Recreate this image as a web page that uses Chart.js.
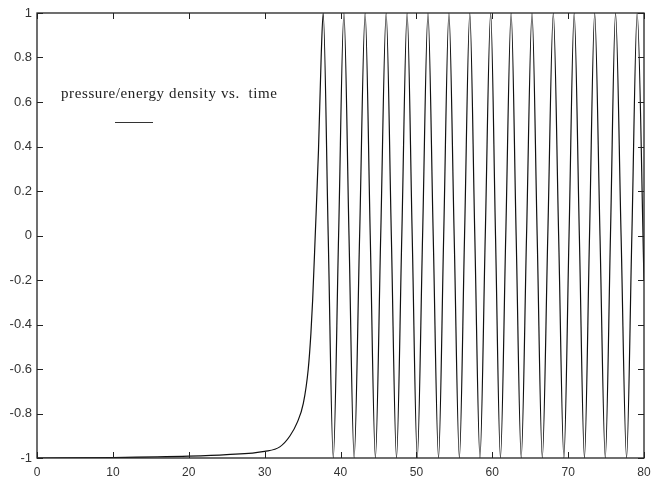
<!DOCTYPE html>
<html>
<head>
<meta charset="utf-8">
<script src="https://cdn.jsdelivr.net/npm/chart.js@4/dist/chart.umd.min.js"></script>
<style>
  html, body { margin: 0; padding: 0; background: #fff; }
  #chart { display: block; }
</style>
</head>
<body>
<canvas id="chart" width="653" height="478"></canvas>
<script>
// values
const timeValues = [
    0, 10, 20, 25, 30, 32, 33.35, 34.3, 35.1, 35.75, 36.1, 36.33, 36.67, 37.1, 37.45,
    37.72, 38.38, 39.05, 39.75, 40.45, 41.12, 41.8, 42.52, 43.25, 43.92, 44.6, 45.3,
    46.02, 46.7, 47.38, 48.08, 48.78, 49.45, 50.12, 50.82, 51.53, 52.22, 52.92, 53.6,
    54.29, 54.98, 55.67, 56.35, 57.04, 57.7, 58.38, 59.08, 59.79, 60.43, 61.08, 61.78,
    62.49, 63.15, 63.82, 64.52, 65.24, 65.92, 66.6, 67.32, 68.05, 68.75, 69.44, 70.12,
    70.8, 71.48, 72.15, 72.82, 73.5, 74.2, 74.9, 75.58, 76.25, 76.98, 77.7, 78.4,
    79.1, 80
];
const ratioValues = [
    -1, -0.998, -0.992, -0.985, -0.97, -0.95, -0.9, -0.84, -0.755, -0.6, -0.44, -0.29, 0, 0.384, 0.8,
    1, 0, -1, 0, 1, 0, -1, 0, 1, 0, -1, 0,
    1, 0, -1, 0, 1, 0, -1, 0, 1, 0, -1, 0,
    1, 0, -1, 0, 1, 0, -1, 0, 1, 0, -1, 0,
    1, 0, -1, 0, 1, 0, -1, 0, 1, 0, -1, 0,
    1, 0, -1, 0, 1, 0, -1, 0, 1, 0, -1, 0,
    1, -0.2
];
const xTicks = [0, 10, 20, 30, 40, 50, 60, 70, 80];
const yTicks = [-1, -0.8, -0.6, -0.4, -0.2, 0, 0.2, 0.4, 0.6, 0.8, 1];
const legendLabel = 'pressure/energy density vs.  time';

const points = timeValues.map((t, i) => ({ x: t, y: ratioValues[i] }));

// gnuplot style frame, inward ticks on all four sides, and the key
const framePlugin = {
    id: 'frame',
    beforeInit(chart) {
        chart.ctx.letterSpacing = '0.8px';
    },
    afterDraw(chart) {
        const ctx = chart.ctx;
        const a = chart.chartArea;
        const xs = chart.scales.x;
        const ys = chart.scales.y;
        const tick = 6;
        ctx.save();
        ctx.strokeStyle = '#222';
        ctx.lineWidth = 1.3;
        ctx.strokeRect(a.left, a.top, a.right - a.left, a.bottom - a.top);
        ctx.lineWidth = 1;
        ctx.beginPath();
        xTicks.forEach(v => {
            const px = Math.round(xs.getPixelForValue(v)) + 0.5;
            ctx.moveTo(px, a.bottom); ctx.lineTo(px, a.bottom - tick);
            ctx.moveTo(px, a.top); ctx.lineTo(px, a.top + tick);
        });
        yTicks.forEach(v => {
            const py = Math.round(ys.getPixelForValue(v)) + 0.5;
            ctx.moveTo(a.left, py); ctx.lineTo(a.left + tick, py);
            ctx.moveTo(a.right, py); ctx.lineTo(a.right - tick, py);
        });
        ctx.stroke();

        // key
        ctx.fillStyle = '#222';
        ctx.letterSpacing = '0.6px';
        ctx.font = '15px "Liberation Serif", "DejaVu Serif", serif';
        ctx.textBaseline = 'alphabetic';
        ctx.fillText(legendLabel, 61, 98);
        ctx.beginPath();
        ctx.strokeStyle = '#333';
        ctx.moveTo(115, 122.5);
        ctx.lineTo(153, 122.5);
        ctx.stroke();
        ctx.restore();
    }
};

new Chart(document.getElementById('chart'), {
    type: 'scatter',
    data: {
        datasets: [{
            label: legendLabel,
            data: points,
            showLine: true,
            borderColor: '#111',
            borderWidth: 1.2,
            pointRadius: 0,
            cubicInterpolationMode: 'monotone',
            fill: false
        }]
    },
    options: {
        responsive: false,
        animation: false,
        layout: { padding: { top: 13, right: 9, left: 0, bottom: 0 } },
        plugins: {
            legend: { display: false },
            tooltip: { enabled: false }
        },
        scales: {
            x: {
                type: 'linear',
                min: 0,
                max: 80,
                grid: { display: false, drawTicks: false },
                border: { display: false },
                afterBuildTicks: s => { s.ticks = xTicks.map(v => ({ value: v })); },
                afterFit: s => { s.height = 20; s.paddingLeft = 0; s.paddingRight = 0; },
                ticks: {
                    padding: 7,
                    color: '#333',
                    font: { family: '"Liberation Sans", Arial, sans-serif', size: 12 },
                    callback: v => String(v)
                }
            },
            y: {
                min: -1,
                max: 1,
                grid: { display: false, drawTicks: false },
                border: { display: false },
                afterBuildTicks: s => { s.ticks = yTicks.map(v => ({ value: v })); },
                afterFit: s => { s.width = 37; s.paddingTop = 0; s.paddingBottom = 0; },
                ticks: {
                    padding: 5,
                    color: '#333',
                    font: { family: '"Liberation Sans", Arial, sans-serif', size: 13 },
                    callback: v => String(Math.round(v * 10) / 10)
                }
            }
        }
    },
    plugins: [framePlugin]
});
</script>
</body>
</html>
